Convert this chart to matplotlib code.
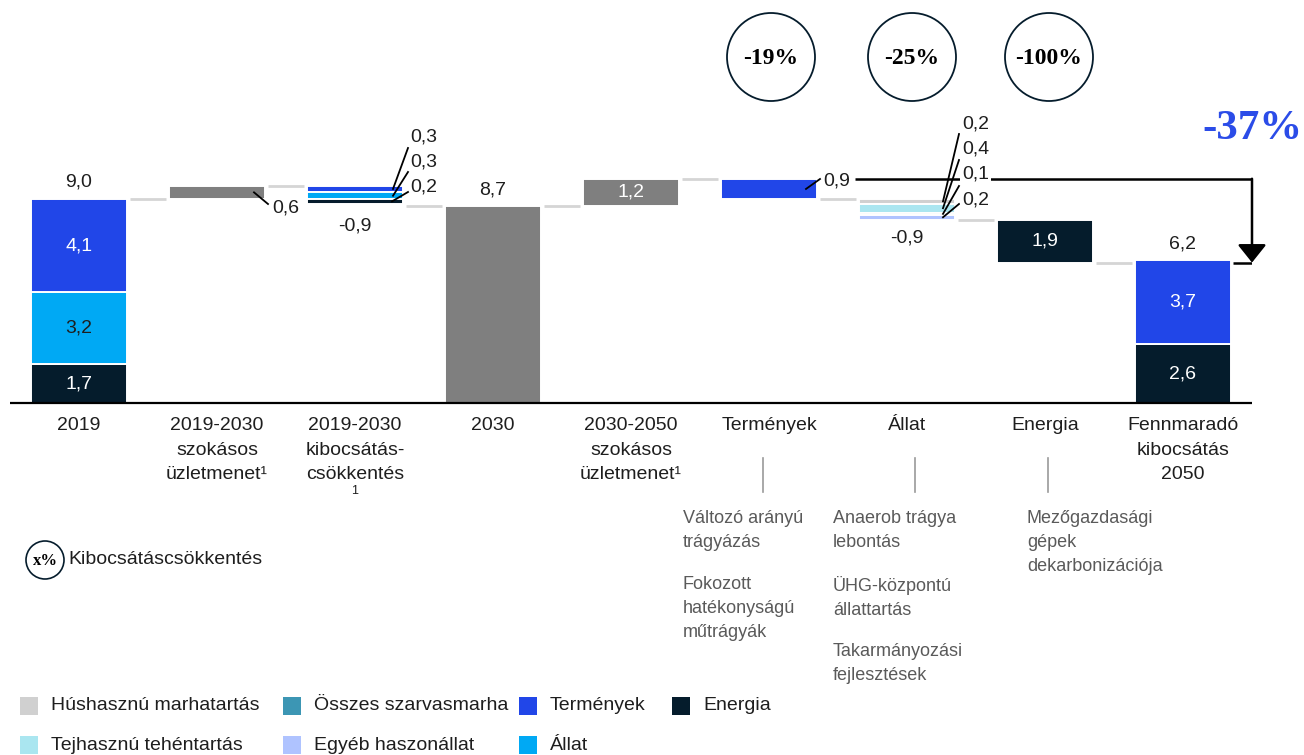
import matplotlib
matplotlib.use("Agg")
import matplotlib.pyplot as plt
from matplotlib.patches import Circle, Rectangle

W, H, DPI = 1304, 755, 100
plt.rcParams['font.family'] = ['Liberation Sans', 'DejaVu Sans']
SERIF = ['Liberation Serif', 'DejaVu Serif']

# colours
C_CROPS = '#2146E8'
C_LIVE = '#00A9F4'
C_ENERGY = '#051C2C'
C_BAU = '#7F7F7F'
C_BEEF = '#D0D0D0'
C_CATTLE = '#3C96B4'
C_DAIRY = '#AAE6F0'
C_OTHER = '#AFC3FF'
C_CONN = '#D5D5D5'
C_TEXT = '#1E1E1E'
C_SUB = '#5A5A5A'
C_BIG = '#2B4CE8'

# ---- data (Mt CO2e) ----
categories = ["2019", "2019-2030\nszokásos\nüzletmenet¹", "2019-2030\nkibocsátás-\ncsökkentés",
              "2030", "2030-2050\nszokásos\nüzletmenet¹", "Termények", "Állat", "Energia",
              "Fennmaradó\nkibocsátás\n2050"]
start_parts = [1.7, 3.2, 4.1]              # Energia, Állat, Termények (bottom -> top)
start_total = 9.0
bau_2030 = 0.6
cut_2030_parts = [0.3, 0.3, 0.2]           # Termények, Állat, Energia (top -> bottom)
cut_2030_total = -0.9
total_2030 = 8.7
bau_2050 = 1.2
cut_crops = 0.9
cut_livestock_parts = [0.2, 0.4, 0.1, 0.2]  # Húshasznú, Tejhasznú, Összes szarvasmarha, Egyéb
cut_livestock_total = -0.9
cut_energy = 1.9
end_parts = [2.6, 3.7]                     # Energia, Termények (bottom -> top)
end_total = 6.2
reduction_pcts = ["-19%", "-25%", "-100%"]
total_reduction = "-37%"

levers_crops = ["Változó arányú\ntrágyázás", "Fokozott\nhatékonyságú\nműtrágyák"]
levers_livestock = ["Anaerob trágya\nlebontás", "ÜHG-központú\nállattartás", "Takarmányozási\nfejlesztések"]
levers_energy = ["Mezőgazdasági\ngépek\ndekarbonizációja"]

legend_items = [("Húshasznú marhatartás", C_BEEF), ("Összes szarvasmarha", C_CATTLE),
                ("Termények", C_CROPS), ("Energia", C_ENERGY),
                ("Tejhasznú tehéntartás", C_DAIRY),
                ("Egyéb haszonállat", C_OTHER), ("Állat", C_LIVE)]


def fmt(v):
    return f"{v:.1f}".replace('.', ',')


fig = plt.figure(figsize=(W / DPI, H / DPI), dpi=DPI)
SCALE = 22.65          # pixels per unit
BASE_PX = 403
ax = fig.add_axes([10 / W, 0, 1242 / W, 1])
ax.set_xlim(-0.5, 8.5)
ax.set_ylim(-(H - BASE_PX) / SCALE, BASE_PX / SCALE)
ax.axis('off')


def X(px):
    return (px - 79) / 138.0


def Y(py):
    return (BASE_PX - py) / SCALE


BW = 0.70
EDGE = dict(edgecolor='white', linewidth=1.4)
VAL = dict(fontsize=14, color=C_TEXT, ha='center', va='center')


def bar(i, bottom, height, color):
    ax.bar(i, height, BW, bottom=bottom, color=color, **EDGE)


# 2019 stacked
cols = [C_ENERGY, C_LIVE, C_CROPS]
txtc = ['white', C_TEXT, 'white']
b = 0
for v, c, tc in zip(start_parts, cols, txtc):
    bar(0, b, v, c)
    ax.text(0, b + v / 2, fmt(v), **{**VAL, 'color': tc})
    b += v
ax.text(0, start_total + 0.75, fmt(start_total), **VAL)

# 2019-2030 business as usual
bar(1, start_total, bau_2030, C_BAU)
y_bau = start_total + bau_2030 / 2
ax.plot([X(254), X(268)], [y_bau, Y(204)], color='black', lw=1.3)
ax.text(X(272), Y(208), fmt(bau_2030), ha='left', va='center', fontsize=14, color=C_TEXT)

# 2019-2030 abatement
top = start_total + bau_2030
cols = [C_CROPS, C_LIVE, C_ENERGY]
lab_py = [137, 162, 187]
end_py = [148, 172, 192]
start_px = [393, 393, 392]
for k, (v, c) in enumerate(zip(cut_2030_parts, cols)):
    bar(2, top - v, v, c)
    ax.plot([X(start_px[k]), X(408)], [top - v / 2, Y(end_py[k])], color='black', lw=1.3)
    ax.text(X(410), Y(lab_py[k]), fmt(v), ha='left', va='center', fontsize=14, color=C_TEXT)
    top -= v
ax.text(2, total_2030 - 0.9, fmt(cut_2030_total), **VAL)

# 2030
bar(3, 0, total_2030, C_BAU)
ax.text(3, total_2030 + 0.72, fmt(total_2030), **VAL)

# 2030-2050 business as usual
bar(4, total_2030, bau_2050, C_BAU)
ax.text(4, total_2030 + bau_2050 / 2, fmt(bau_2050), **{**VAL, 'color': 'white'})
peak = total_2030 + bau_2050

# Crops
bar(5, peak - cut_crops, cut_crops, C_CROPS)
ax.plot([X(806), X(820)], [peak - cut_crops / 2, Y(179)], color='black', lw=1.3)
ax.text(X(823), Y(181), fmt(cut_crops), ha='left', va='center', fontsize=14, color=C_TEXT)
after_crops = peak - cut_crops

# Livestock
top = after_crops
cols = [C_BEEF, C_DAIRY, C_CATTLE, C_OTHER]
lab_py = [124, 149, 174, 200]
end_py = [134, 160, 186, 204]
for k, (v, c) in enumerate(zip(cut_livestock_parts, cols)):
    bar(6, top - v, v, c)
    ax.plot([X(943), X(959)], [top - v / 2, Y(end_py[k])], color='black', lw=1.3)
    top -= v
after_live = top
ax.text(6, after_live - 0.8, fmt(cut_livestock_total), **VAL)

# Energy
bar(7, after_live - cut_energy, cut_energy, C_ENERGY)
ax.text(7, after_live - cut_energy / 2, fmt(cut_energy), **{**VAL, 'color': 'white'})

# 2050 stacked
b = 0
for v, c in zip(end_parts, [C_ENERGY, C_CROPS]):
    bar(8, b, v, c)
    ax.text(8, b + v / 2, fmt(v), **{**VAL, 'color': 'white'})
    b += v
ax.text(8, end_total + 0.8, fmt(end_total), **VAL)

# connectors between bars
levels = [start_total, start_total + bau_2030, total_2030, total_2030, peak,
          after_crops, after_live, end_total]
for i, lv in enumerate(levels):
    ax.hlines(lv, i + BW / 2 + 0.02, i + 1 - BW / 2 - 0.02, color=C_CONN, lw=2)

# total reduction bracket
ax.hlines(peak, X(855), X(1260), color='black', lw=1.8, zorder=3)
ax.hlines(end_total, X(1233), X(1260), color='black', lw=1.8, zorder=3)
ax.annotate('', xy=(X(1252), end_total), xytext=(X(1252), peak),
            arrowprops=dict(arrowstyle='-|>,head_length=0.5,head_width=0.4', color='black',
                            lw=1.8, mutation_scale=22, shrinkA=0, shrinkB=0), zorder=3)

# livestock labels on top of the bracket line
for k, v in enumerate(cut_livestock_parts):
    ax.text(X(962), Y(lab_py[k]), fmt(v), ha='left', va='center', fontsize=14, color=C_TEXT,
            zorder=5, bbox=dict(fc='white', ec='none', pad=1.5))

# baseline
ax.axhline(0, color='black', lw=1.6, zorder=4)

# category labels
for i, cat in enumerate(categories):
    ax.text(i, Y(417), cat, ha='center', va='top', fontsize=14, color=C_TEXT, linespacing=1.58)
ax.text(2, Y(485), "1", ha='center', va='top', fontsize=9, color=C_TEXT)

# lever descriptions
for px in (763, 915, 1048):
    ax.plot([X(px), X(px)], [Y(458), Y(492)], color='#9A9A9A', lw=1.2)
LEV = dict(ha='left', va='top', fontsize=13, color=C_SUB, linespacing=1.55)
for txt, py in zip(levers_crops, [510, 576]):
    ax.text(X(683), Y(py), txt, **LEV)
for txt, py in zip(levers_livestock, [510, 576, 643]):
    ax.text(X(833), Y(py), txt, **LEV)
for txt, py in zip(levers_energy, [510]):
    ax.text(X(1027), Y(py), txt, **LEV)


# circles with reduction percentages (figure pixel coordinates)
def fig_circle(cx, cy, r, lw=1.3):
    fig.add_artist(Circle((cx / DPI, (H - cy) / DPI), r / DPI, transform=fig.dpi_scale_trans,
                          fill=False, ec=C_ENERGY, lw=lw))


for (cx, txt) in zip([771, 912, 1049], reduction_pcts):
    fig_circle(cx, 57, 44)
    fig.text(cx / W, 1 - 59 / H, txt, ha='center', va='center', fontsize=17, fontweight='bold',
             family=SERIF, color='black')

fig.text(1302 / W, 1 - 129 / H, total_reduction, ha='right', va='center', fontsize=31,
         fontweight='bold', family=SERIF, color=C_BIG)

# circle key
fig_circle(45, 560, 19, lw=1.2)
fig.text(45 / W, 1 - 561 / H, "x%", ha='center', va='center', fontsize=12, fontweight='bold',
         family=SERIF, color='black')
fig.text(68 / W, 1 - 560 / H, "Kibocsátáscsökkentés", ha='left', va='center', fontsize=14,
         color=C_TEXT)

# legend
sq_x = [20, 283, 519, 672, 20, 283, 519]
row_y = [706, 706, 706, 706, 745, 745, 745]
SQ = 18
for (label, col), sx, ry in zip(legend_items, sq_x, row_y):
    fig.add_artist(Rectangle((sx / W, 1 - (ry + SQ / 2) / H), SQ / W, SQ / H,
                             transform=fig.transFigure, fc=col, ec='none'))
    fig.text((sx + 31) / W, 1 - ry / H, label, ha='left', va='center', fontsize=14, color=C_TEXT)

fig.savefig("out.png", dpi=DPI)
